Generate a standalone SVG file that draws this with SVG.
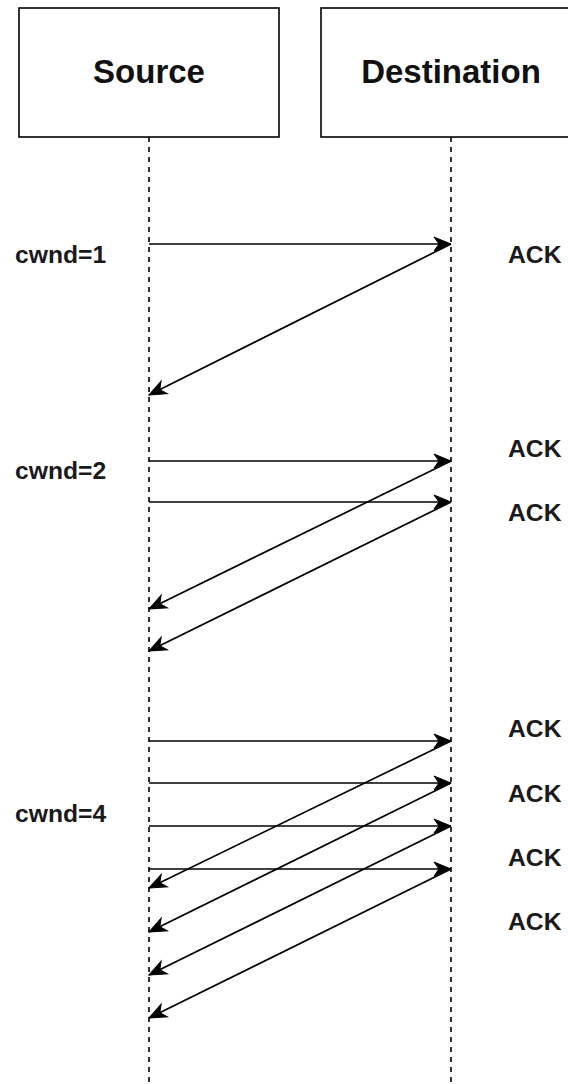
<svg xmlns="http://www.w3.org/2000/svg" width="568" height="1084" viewBox="0 0 568 1084">
  <style>
    .box { fill: #ffffff; stroke: #000000; stroke-width: 1.6; }
    .title { font-family: "Liberation Sans", Arial, sans-serif; font-size: 33px; font-weight: bold; fill: #111111; text-anchor: middle; }
    .label { font-family: "Liberation Sans", Arial, sans-serif; font-size: 24.7px; font-weight: bold; fill: #1a1a1a; }
    .life { stroke: #000000; stroke-width: 1.6; stroke-dasharray: 5 5; fill: none; }
    .msg { stroke: #000000; stroke-width: 1.7; fill: none; marker-end: url(#head); }
  </style>
  <defs>
    <marker id="head" markerUnits="userSpaceOnUse" viewBox="-19 -9 20 18" refX="0" refY="0" markerWidth="20" markerHeight="18" orient="auto">
      <path d="M0,0 L-17,-7 L-12,0 L-17,7 Z" fill="#000000" stroke="#000000" stroke-width="1" stroke-linejoin="miter"/>
    </marker>
  </defs>

  <rect width="568" height="1084" fill="#ffffff"/>

  <!-- lifelines -->
  <g id="lifelines">
    <line class="life" x1="149" y1="137" x2="149" y2="1084"/>
    <line class="life" x1="451" y1="137" x2="451" y2="1084"/>
  </g>

  <g id="source">
    <rect class="box" x="19" y="8" width="260" height="129"/>
    <text class="title" x="149" y="83">Source</text>
  </g>

  <g id="destination">
    <rect class="box" x="321" y="8" width="260" height="129"/>
    <text class="title" x="451" y="83">Destination</text>
  </g>

  <!-- segments sent and acknowledgements returned -->
  <g id="connectors">
    <line class="msg" x1="149" y1="244" x2="451" y2="244"/>
    <line class="msg" x1="451" y1="244" x2="149" y2="395"/>

    <line class="msg" x1="149" y1="461" x2="451" y2="461"/>
    <line class="msg" x1="149" y1="502" x2="451" y2="502"/>
    <line class="msg" x1="451" y1="461" x2="149" y2="609"/>
    <line class="msg" x1="451" y1="502" x2="149" y2="651"/>

    <line class="msg" x1="149" y1="741" x2="451" y2="741"/>
    <line class="msg" x1="149" y1="783" x2="451" y2="783"/>
    <line class="msg" x1="149" y1="826" x2="451" y2="826"/>
    <line class="msg" x1="149" y1="869" x2="451" y2="869"/>
    <line class="msg" x1="451" y1="741" x2="149" y2="888"/>
    <line class="msg" x1="451" y1="783" x2="149" y2="932"/>
    <line class="msg" x1="451" y1="826" x2="149" y2="975"/>
    <line class="msg" x1="451" y1="869" x2="149" y2="1018"/>
  </g>

  <g id="window-labels">
    <text class="label" x="15" y="263">cwnd=1</text>
    <text class="label" x="15" y="479">cwnd=2</text>
    <text class="label" x="15" y="822">cwnd=4</text>
  </g>

  <g id="ack-labels">
    <text class="label" x="508" y="263">ACK</text>
    <text class="label" x="508" y="457">ACK</text>
    <text class="label" x="508" y="521">ACK</text>
    <text class="label" x="508" y="737">ACK</text>
    <text class="label" x="508" y="802">ACK</text>
    <text class="label" x="508" y="866">ACK</text>
    <text class="label" x="508" y="930">ACK</text>
  </g>
</svg>
